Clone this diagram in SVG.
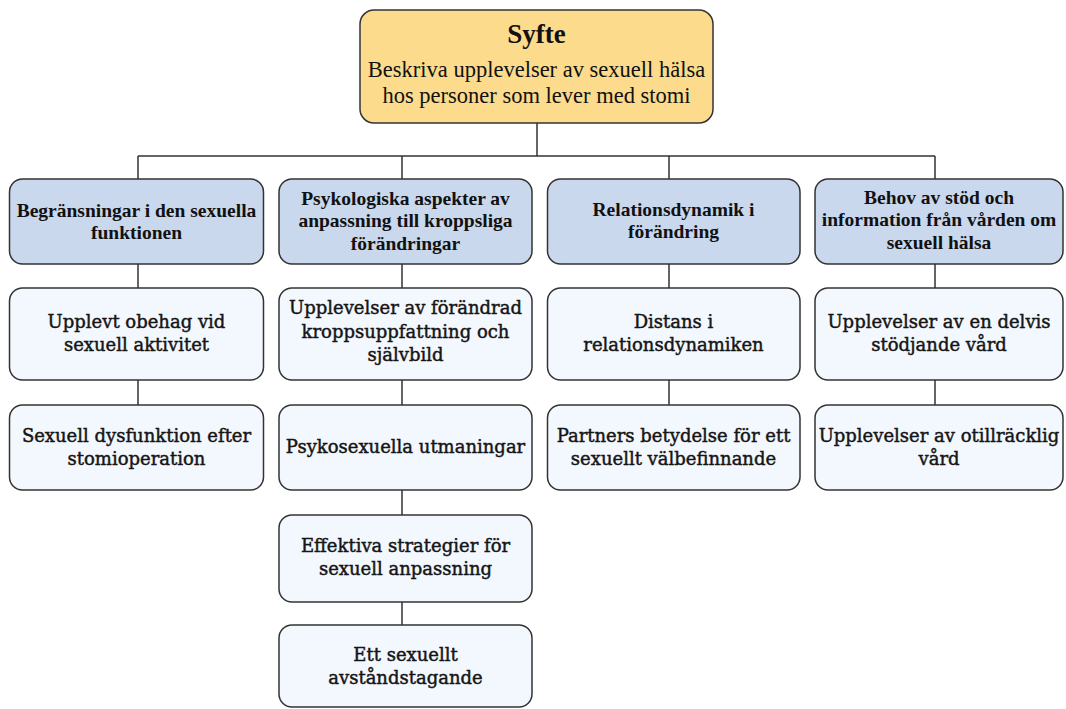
<svg xmlns="http://www.w3.org/2000/svg" width="1066" height="709" viewBox="0 0 1066 709">
<style>
.box{stroke:#333;stroke-width:1.5}
.top{fill:#FCDB8C}
.cat{fill:#C9D8EC}
.sub{fill:#F3F8FE}
.ttl{font-family:"Liberation Serif",serif;font-weight:bold;font-size:27px;fill:#111;text-anchor:middle}
.dsc{font-family:"Liberation Serif",serif;font-size:22.5px;fill:#111;text-anchor:middle}
.ct{font-family:"Liberation Serif",serif;font-weight:bold;font-size:19.5px;fill:#111;text-anchor:middle}
.st{font-family:"DejaVu Serif",serif;font-size:18px;fill:#151515;stroke:#151515;stroke-width:0.45;text-anchor:middle}
.ln{stroke:#333;stroke-width:1.5;fill:none}
</style>
<rect width="1066" height="709" fill="#fff"/>
<g id="connectors">
<path class="ln" d="M537 123V156M138 156H935M138 156V179M402 156V179M669 156V179M935 156V179"/>
<path class="ln" d="M138 264V288M402 264V288M669 264V288M935 264V288"/>
<path class="ln" d="M138 380V405M402 380V405M669 380V405M935 380V405"/>
<path class="ln" d="M402 490V515M402 602V625"/>
</g>
<g id="syfte">
<rect class="box top" x="360" y="10" width="353" height="113" rx="14"/>
<text class="ttl" x="536.5" y="43">Syfte</text>
<text class="dsc" x="536.5" y="77">Beskriva upplevelser av sexuell hälsa</text>
<text class="dsc" x="536.5" y="103">hos personer som lever med stomi</text>
</g>
<g id="cat1">
<rect class="box cat" x="9.5" y="179" width="254" height="85" rx="13"/>
<text class="ct" x="136.5" y="216.5">Begränsningar i den sexuella</text>
<text class="ct" x="136.5" y="238.5">funktionen</text>
</g>
<g id="cat2">
<rect class="box cat" x="279" y="179" width="253" height="85" rx="13"/>
<text class="ct" x="405.5" y="204.5">Psykologiska aspekter av</text>
<text class="ct" x="405.5" y="227">anpassning till kroppsliga</text>
<text class="ct" x="405.5" y="249.5">förändringar</text>
</g>
<g id="cat3">
<rect class="box cat" x="547.5" y="179" width="252.5" height="85" rx="13"/>
<text class="ct" x="673.5" y="216">Relationsdynamik i</text>
<text class="ct" x="673.5" y="238">förändring</text>
</g>
<g id="cat4">
<rect class="box cat" x="815" y="179" width="248" height="85" rx="13"/>
<text class="ct" x="939" y="203.5">Behov av stöd och</text>
<text class="ct" x="939" y="226">information från vården om</text>
<text class="ct" x="939" y="248.5">sexuell hälsa</text>
</g>
<g id="s1a">
<rect class="box sub" x="9.5" y="288" width="254" height="92" rx="13"/>
<text class="st" x="136.5" y="328">Upplevt obehag vid</text>
<text class="st" x="136.5" y="351">sexuell aktivitet</text>
</g>
<g id="s1b">
<rect class="box sub" x="9.5" y="405" width="254" height="85" rx="13"/>
<text class="st" x="136.5" y="441.5">Sexuell dysfunktion efter</text>
<text class="st" x="136.5" y="464.5">stomioperation</text>
</g>
<g id="s2a">
<rect class="box sub" x="279" y="288" width="253" height="92" rx="13"/>
<text class="st" x="405.5" y="314">Upplevelser av förändrad</text>
<text class="st" x="405.5" y="337.5">kroppsuppfattning och</text>
<text class="st" x="405.5" y="361">självbild</text>
</g>
<g id="s2b">
<rect class="box sub" x="279" y="405" width="253" height="85" rx="13"/>
<text class="st" x="405.5" y="453">Psykosexuella utmaningar</text>
</g>
<g id="s2c">
<rect class="box sub" x="279" y="515" width="253" height="87" rx="13"/>
<text class="st" x="405.5" y="551.5">Effektiva strategier för</text>
<text class="st" x="405.5" y="574.5">sexuell anpassning</text>
</g>
<g id="s2d">
<rect class="box sub" x="279" y="625" width="253" height="82" rx="13"/>
<text class="st" x="405.5" y="661">Ett sexuellt</text>
<text class="st" x="405.5" y="684">avståndstagande</text>
</g>
<g id="s3a">
<rect class="box sub" x="547.5" y="288" width="252.5" height="92" rx="13"/>
<text class="st" x="673.5" y="328">Distans i</text>
<text class="st" x="673.5" y="351">relationsdynamiken</text>
</g>
<g id="s3b">
<rect class="box sub" x="547.5" y="405" width="252.5" height="85" rx="13"/>
<text class="st" x="673.5" y="441.5">Partners betydelse för ett</text>
<text class="st" x="673.5" y="464.5">sexuellt välbefinnande</text>
</g>
<g id="s4a">
<rect class="box sub" x="815" y="288" width="248" height="92" rx="13"/>
<text class="st" x="939" y="328">Upplevelser av en delvis</text>
<text class="st" x="939" y="351">stödjande vård</text>
</g>
<g id="s4b">
<rect class="box sub" x="815" y="405" width="248" height="85" rx="13"/>
<text class="st" x="939" y="441.5">Upplevelser av otillräcklig</text>
<text class="st" x="939" y="464.5">vård</text>
</g>
</svg>
